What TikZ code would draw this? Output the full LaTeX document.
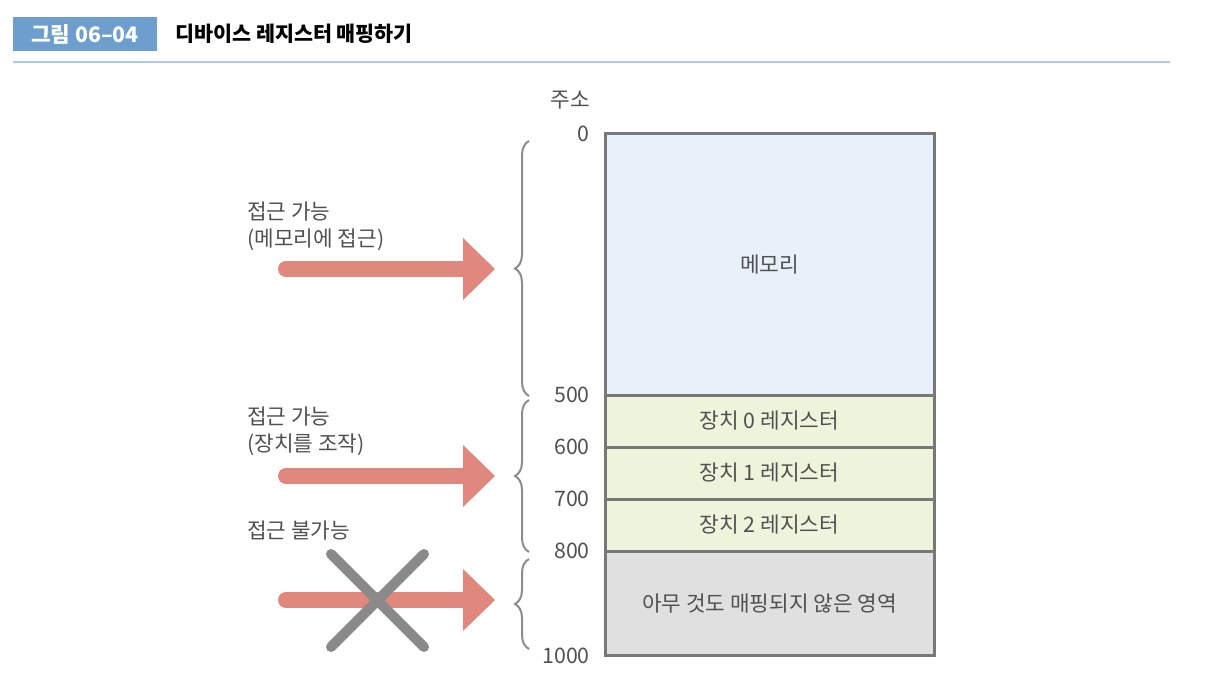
\documentclass[tikz,border=0pt]{standalone}
\usepackage{fontspec}
\setmainfont{Noto Sans CJK KR}
\usetikzlibrary{arrows.meta,decorations.pathreplacing}
\definecolor{titlebox}{HTML}{6E9ECE}
\definecolor{ruleblue}{HTML}{AEC9E6}
\definecolor{memfill}{HTML}{E8F1FA}
\definecolor{devfill}{HTML}{EEF3DB}
\definecolor{nonefill}{HTML}{E0E0E0}
\definecolor{framegray}{HTML}{787878}
\definecolor{txt}{HTML}{505050}
\definecolor{arrowred}{HTML}{E0877E}
\definecolor{crossgray}{HTML}{8A8A8A}
\definecolor{bracegray}{HTML}{8C8C8C}
\begin{document}
\begin{tikzpicture}[x=0.75pt,y=-0.75pt,
  lbl/.style={font=\fontsize{16}{20}\selectfont, text=txt, inner sep=0pt},
  addr/.style={lbl, anchor=east},
  side/.style={lbl, anchor=west, align=left, font=\fontsize{16}{20.25}\selectfont},
  bigarrow/.style={arrowred, line width=12pt, line cap=round,
    -{Triangle[length=24pt,width=46.5pt,line width=0pt]}},
  brc/.style={bracegray, line width=1.5pt, decorate, decoration={brace, amplitude=10.5pt}},
  crossline/.style={crossgray, line width=7.5pt, line cap=round},
  framestyle/.style={framegray, line width=2.25pt}]
\useasboundingbox (0,0) rectangle (1216,692);
% title
\node[fill=titlebox, minimum width=108pt, minimum height=25.5pt, inner sep=0pt,
  text=white, font=\fontsize{16}{18}\selectfont\bfseries] (tag) at (85,34) {그림 06–04};
\node[anchor=west, inner sep=0pt, font=\fontsize{15.5}{18}\selectfont\bfseries] (title) at (175,34) {디바이스 레지스터 매핑하기};
\coordinate (rl) at (13,62);
\coordinate (rr) at (1170,62);
\draw[ruleblue, line width=1.5pt] (rl) -- (rr);
% memory map
\fill[memfill] (605,133) rectangle (934,395);
\fill[devfill] (605,395) rectangle (934,551);
\fill[nonefill] (605,551) rectangle (934,655);
\draw[framestyle] (605,395) -- (934,395) (605,447) -- (934,447) (605,499) -- (934,499) (605,551) -- (934,551);
\draw[framestyle] (605,133) rectangle (934,655);
\node[lbl] (mem) at (769.5,265) {메모리};
\node[lbl] (dev0) at (769.5,421) {장치 0 레지스터};
\node[lbl] (dev1) at (769.5,473) {장치 1 레지스터};
\node[lbl] (dev2) at (769.5,525) {장치 2 레지스터};
\node[lbl] (none) at (769.5,604) {아무 것도 매핑되지 않은 영역};
% addresses
\node[lbl, anchor=east] (hdr) at (590,100) {주소};
\node[addr] (a0) at (590,134) {0};
\node[addr] (a500) at (590,395) {500};
\node[addr] (a600) at (590,447) {600};
\node[addr] (a700) at (590,499) {700};
\node[addr] (a800) at (590,551) {800};
\node[addr] (a1000) at (590,656) {1000};
% braces
\coordinate (b1t) at (529,141); \coordinate (b1b) at (529,396);
\coordinate (b2t) at (529,400); \coordinate (b2b) at (529,552);
\coordinate (b3t) at (529,559); \coordinate (b3b) at (529,649);
\draw[brc] (b1b) -- (b1t);
\draw[brc] (b2b) -- (b2t);
\draw[brc] (b3b) -- (b3t);
% side labels
\node[side] (l1) at (247,226) {접근 가능\\(메모리에 접근)};
\node[side] (l2) at (247,431) {접근 가능\\(장치를 조작)};
\node[side] (l3) at (247,530) {접근 불가능};
% arrows
\coordinate (s1) at (286,269); \coordinate (e1) at (495,269);
\coordinate (s2) at (286,476); \coordinate (e2) at (495,476);
\coordinate (s3) at (286,600); \coordinate (e3) at (495,600);
\draw[bigarrow] (s1) -- (e1);
\draw[bigarrow] (s2) -- (e2);
\draw[bigarrow] (s3) -- (e3);
% cross
\coordinate (x1) at (331,554); \coordinate (x2) at (424,647);
\coordinate (x3) at (424,554); \coordinate (x4) at (331,647);
\draw[crossline] (x1) -- (x2);
\draw[crossline] (x3) -- (x4);
\end{tikzpicture}
\end{document}
